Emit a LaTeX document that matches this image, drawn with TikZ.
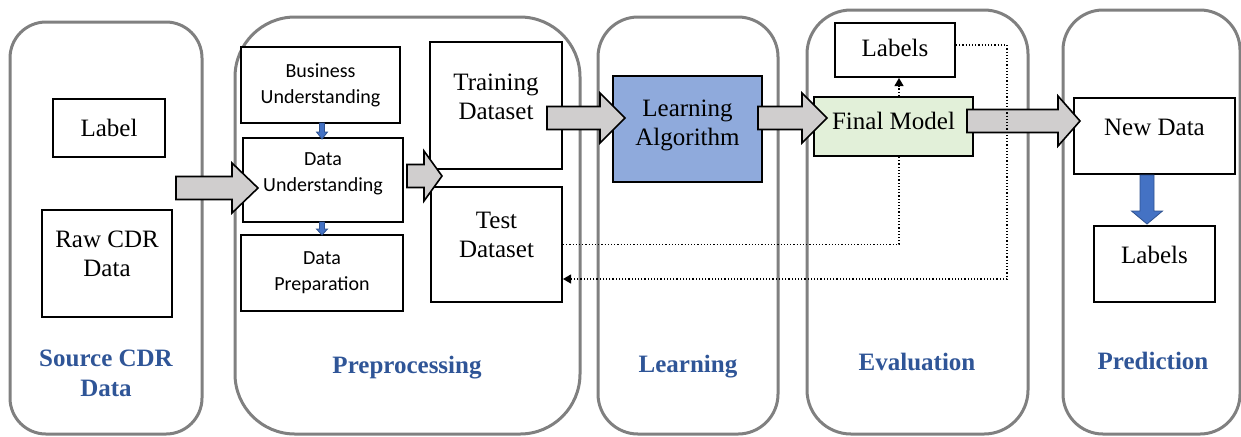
\documentclass[tikz,border=0pt]{standalone}
\usepackage{fontspec}
\setmainfont{Liberation Serif}
\newfontfamily\timesfont{Liberation Serif}
\newfontfamily\calibri{Carlito}
\usepackage{tikz}
\usetikzlibrary{shapes,arrows.meta,positioning}
\definecolor{stagegray}{RGB}{128,128,128}
\definecolor{arrowgray}{RGB}{208,206,206}
\definecolor{arrowblue}{RGB}{68,114,196}
\definecolor{blueedge}{RGB}{47,82,143}
\definecolor{algoblue}{RGB}{143,170,220}
\definecolor{modelgreen}{RGB}{226,240,217}
\definecolor{titleblue}{RGB}{47,85,151}
% fat arrow pointing right: tail x, head x, tip x, centre y
\def\rarrow#1#2#3#4{\draw[fatarrow] (#1,{#4-11.5}) -- (#2,{#4-11.5}) -- (#2,{#4-25}) -- (#3,#4) -- (#2,{#4+25}) -- (#2,{#4+11.5}) -- (#1,{#4+11.5}) -- cycle;}
% fat arrow pointing down: centre x, tail y, head y, tip y, shaft half, head half
\def\darrow#1#2#3#4#5#6{\draw[bluearrow] ({#1-#5},#2) -- ({#1-#5},#3) -- ({#1-#6},#3) -- (#1,#4) -- ({#1+#6},#3) -- ({#1+#5},#3) -- ({#1+#5},#2) -- cycle;}

\begin{document}
\begin{tikzpicture}[x=0.5pt,y=-0.5pt,% one unit = one pixel, y downwards
			every node/.style={
				align=center,		% so that "\\" breaks lines
				inner sep=0pt,
				font=\timesfont\fontsize{12.5}{14.5}\selectfont
			},
			stage/.style={rectangle,draw=stagegray,line width=1.5pt},
			box/.style={rectangle,draw=black,line width=1pt,fill=white},
			small/.style={font=\calibri\fontsize{10}{13}\selectfont},
			title/.style={font=\timesfont\bfseries\fontsize{12.5}{15}\selectfont,text=titleblue},
			fatarrow/.style={draw=black,line width=0.8pt,fill=arrowgray},
			bluearrow/.style={draw=blueedge,line width=0.4pt,fill=arrowblue},
			feedback/.style={densely dotted,line width=0.6pt}
		]
		\useasboundingbox (0,0) rectangle (1241,436);
		% stages
		\node[stage,minimum width=96pt,minimum height=206pt,rounded corners=18pt](C1) at (106,228){};
		\node[stage,minimum width=172.5pt,minimum height=208.5pt,rounded corners=30pt](C2) at (407.5,225.5){};
		\node[stage,minimum width=90pt,minimum height=208.5pt,rounded corners=20pt](C3) at (688,225.5){};
		\node[stage,minimum width=110.5pt,minimum height=212pt,rounded corners=22pt](C4) at (917.5,222){};
		\node[stage,minimum width=88.5pt,minimum height=212pt,rounded corners=20pt](C5) at (1151.5,222){};
		\node[title](T1) at (106,373){Source CDR\\Data};
		\node[title](T2) at (407,368){Preprocessing};
		\node[title](T3) at (688,367){Learning};
		\node[title](T4) at (917,362){Evaluation};
		\node[title](T5) at (1153,361){Prediction};
		% boxes
		\node[box,minimum width=56pt,minimum height=29pt](R1) at (109,128){Label};
		\node[box,minimum width=65pt,minimum height=53.5pt,text depth=9.5pt](R2) at (107,263.5){Raw CDR\\Data};
		\node[box,small,minimum width=79.5pt,minimum height=38pt](R3) at (320.5,85){Business\\Understanding};
		\node[box,small,minimum width=80pt,minimum height=42pt,text depth=8pt](R4) at (323,180){Data\\Understanding};
		\node[box,small,minimum width=81pt,minimum height=38pt](R5) at (322,273){Data\\Preparation};
		\node[box,minimum width=66pt,minimum height=63.5pt,text depth=9pt](R6) at (496,105.5){Training\\Dataset};
		\node[box,minimum width=65.5pt,minimum height=57.5pt,text depth=10pt](R7) at (496.5,244.5){Test\\Dataset};
		\node[box,fill=algoblue,minimum width=74.5pt,minimum height=53pt,text depth=6pt](R8) at (687.5,129){Learning\\Algorithm};
		\node[box,minimum width=60pt,minimum height=27pt,text depth=2pt](R9) at (895,50){Labels};
		\node[box,fill=modelgreen,minimum width=79.5pt,minimum height=29.5pt,text depth=5.5pt](R10) at (893.5,126.5){Final Model};
		\node[box,minimum width=80.5pt,minimum height=38pt,text depth=9pt](R11) at (1154.5,136){New Data};
		\node[box,minimum width=60.5pt,minimum height=38pt,text depth=9pt](R12) at (1154.5,264){Labels};
		% block arrows
		\rarrow{176}{232}{258}{188}
		\rarrow{407}{424}{442}{176}
		\rarrow{547}{600}{625}{118}
		\rarrow{758}{802}{827}{118}
		\rarrow{967}{1058}{1080}{121}
		\darrow{322}{123}{132}{139}{2.5}{5.5}
		\darrow{322}{222}{229}{235}{2.5}{5.5}
		\darrow{1147}{175}{211}{224}{7}{15.5}
		% feedback loop
		\coordinate (K1) at (1007,279);
		\draw[feedback] (R7.east) -| ([xshift=2.75pt]R10.south);
		\draw[feedback,-{Triangle[length=4pt,width=4.5pt]}] ([xshift=2.75pt]R10.north) -- ([xshift=2.75pt]R10.north |- R9.south);
		\draw[feedback,-{Triangle[length=4pt,width=4.5pt]}] ([yshift=2.5pt]R9.east) -| (K1) -- (K1 -| R7.east);
	\end{tikzpicture}
\end{document}
